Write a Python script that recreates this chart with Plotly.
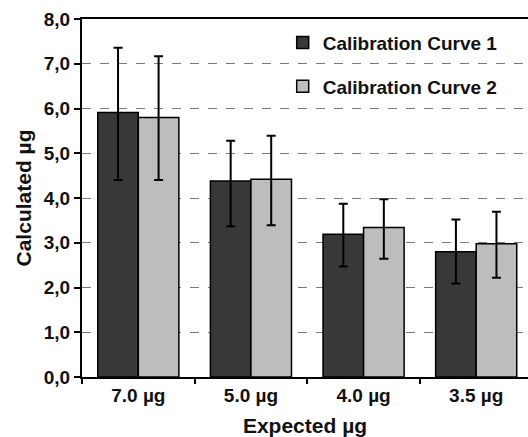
import plotly.graph_objects as go

categories = ["7.0 µg", "5.0 µg", "4.0 µg", "3.5 µg"]
curve1 = [5.91, 4.38, 3.19, 2.80]
curve1_plus = [1.45, 0.90, 0.68, 0.72]
curve1_minus = [1.51, 1.01, 0.72, 0.71]
curve2 = [5.80, 4.42, 3.34, 2.98]
curve2_plus = [1.37, 0.97, 0.63, 0.71]
curve2_minus = [1.40, 1.03, 0.70, 0.76]
ytick_vals = [0, 1, 2, 3, 4, 5, 6, 7, 8]
ytick_text = ["0,0", "1,0", "2,0", "3,0", "4,0", "5,0", "6,0", "7,0", "8,0"]

FONT = "Liberation Sans, Arial, sans-serif"
bold = dict(family=FONT, color="#111", weight="bold")

fig = go.Figure()
fig.add_trace(go.Bar(
    x=categories, y=curve1, name="Calibration Curve 1", legendgroup="a",
    marker=dict(color="#383838", line=dict(color="#000", width=1.5)),
    error_y=dict(type="data", symmetric=False, array=curve1_plus, arrayminus=curve1_minus,
                 color="#000", thickness=2, width=4.5),
))
fig.add_trace(go.Bar(
    x=categories, y=curve2, name="Calibration Curve 2", legendgroup="b",
    marker=dict(color="#bdbdbd", line=dict(color="#000", width=1.5)),
    error_y=dict(type="data", symmetric=False, array=curve2_plus, arrayminus=curve2_minus,
                 color="#000", thickness=2, width=4.5),
))

fig.update_layout(
    width=528, height=437,
    margin=dict(l=82, r=0, t=19, b=60),
    paper_bgcolor="white", plot_bgcolor="white",
    barmode="group", bargap=0.28, bargroupgap=0,
    font=dict(family=FONT, size=19, color="#111", weight="bold"),
    legend=dict(x=0.45, y=0.987, xanchor="left", yanchor="top",
                bgcolor="rgba(0,0,0,0)", font=dict(size=19, **bold),
                tracegroupgap=16, traceorder="grouped"),
    xaxis=dict(
        range=[-0.5, 3.46], showline=True, mirror=True, linecolor="#000", linewidth=2,
        ticks="outside", tickson="boundaries", ticklen=5, tickwidth=1.5, tickcolor="#000",
        tickfont=dict(size=19, **bold), showgrid=False,
        title=dict(text="Expected µg", font=dict(size=21, **bold), standoff=16),
    ),
    yaxis=dict(
        range=[0, 8], tickvals=ytick_vals, ticktext=ytick_text,
        showline=True, linecolor="#000", linewidth=2,
        ticks="outside", ticklen=6, tickwidth=1.5, tickcolor="#000",
        tickfont=dict(size=19, **bold),
        showgrid=True, gridcolor="#7a7a7a", gridwidth=1, griddash="dash",
        zeroline=False,
        title=dict(text="Calculated µg", font=dict(size=21, **bold), standoff=6),
    ),
)

fig.write_html("out.html")
